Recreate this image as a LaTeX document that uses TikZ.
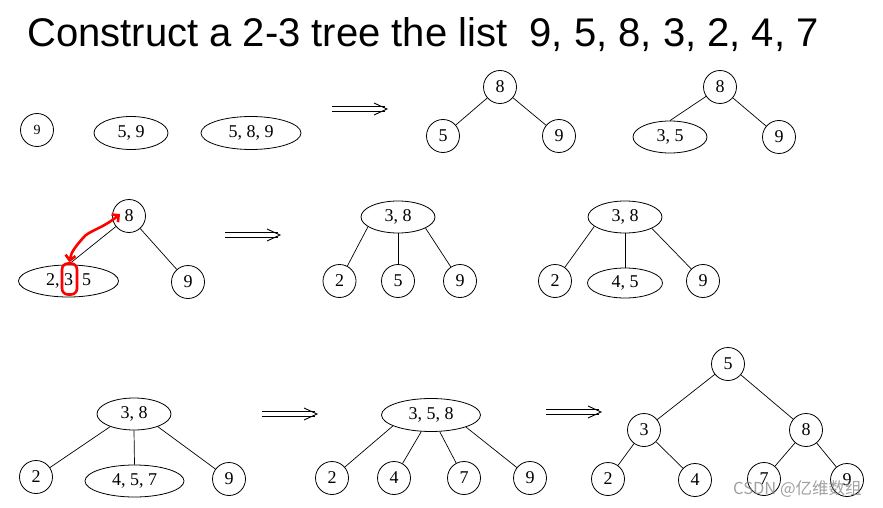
\documentclass[tikz,border=0pt]{standalone}
\usepackage{fontspec}
\setmainfont{Liberation Serif}
\newfontfamily\titlefont{Liberation Sans}
\newfontfamily\cjk{Noto Sans CJK SC}
\usetikzlibrary{shapes.geometric,arrows.meta}
\tikzset{
  cnode/.style={circle,draw,line width=0.8pt,minimum size=33pt,inner sep=0pt,font=\fontsize{18}{18}\selectfont},
  enode/.style={ellipse,draw,line width=0.8pt,inner sep=0pt,minimum height=32pt,font=\fontsize{18}{18}\selectfont},
  tedge/.style={line width=0.7pt},
  redbox/.style={draw=red,line width=2.6pt,rounded corners=6pt,minimum width=15pt,minimum height=31pt,inner sep=0pt},
  redarr/.style={draw=red,line width=2.6pt,line cap=round,line join=round,arrows={Straight Barb[length=5pt,width=10pt]-Straight Barb[length=5pt,width=10pt]}},
  dblarr/.pic={
    \draw[line width=0.8pt] (0,-2.2) -- (53,-2.2) (0,2.2) -- (53,2.2);
    \draw[line width=0.9pt] (42,-6) -- (55,0) -- (42,6);
  }
}
\begin{document}
\begin{tikzpicture}[x=1pt,y=-1pt]
\useasboundingbox (0,0) rectangle (883,508);

% title
\node[font=\titlefont\fontsize{40}{40}\selectfont,anchor=base west,inner sep=0pt] (title) at (27,47) {Construct a 2-3 tree the list\ \ 9, 5, 8, 3, 2, 4, 7};

% ---------- row 1 ----------
\node[cnode,font=\fontsize{14}{14}\selectfont] (a9) at (37,130) {9};
\node[enode,minimum width=74pt,minimum height=33pt] (a59) at (131,133) {5, 9};
\node[enode,minimum width=100pt,minimum height=33pt] (a589) at (251,133) {5, 8, 9};
\pic at (332,109) {dblarr};

\node[cnode] (b8) at (500,87) {8};
\node[cnode] (b5) at (443,136) {5};
\node[cnode] (b9) at (559,136) {9};
\draw[tedge] (b8) -- (b5);
\draw[tedge] (b8) -- (b9);

\node[cnode] (c8) at (720,87) {8};
\node[enode,minimum width=74pt] (c35) at (670,137) {3, 5};
\node[cnode] (c9) at (779,137) {9};
\draw[tedge] (c8) -- (c35.north);
\draw[tedge] (c8) -- (c9);

% ---------- row 2 ----------
\node[cnode] (d8) at (129,216) {8};
\node[enode,minimum width=100pt] (d235) at (68.5,281) {2, 3\enspace 5};
\node[cnode] (d9) at (188,282) {9};
\draw[tedge] (d8) -- (d235.north);
\draw[tedge] (d8) -- (d9);
\node[redbox] (dred) at (69.5,279) {};
\coordinate (dtip) at (120,214);
\draw[redarr] (dred.north) .. controls (71,252) and (76,246) .. (83,238) .. controls (88,231) and (102,229) .. (dtip);

\pic at (225,235) {dblarr};

\node[enode,minimum width=74pt] (e38) at (398,217) {3, 8};
\node[cnode] (e2) at (339.5,281) {2};
\node[cnode] (e5) at (398,281) {5};
\node[cnode] (e9) at (460,281) {9};
\draw[tedge] (e38.198) -- (e2);
\draw[tedge] (e38.south) -- (e5.north);
\draw[tedge] (e38.338) -- (e9);

\node[enode,minimum width=74pt] (f38) at (625,217) {3, 8};
\node[cnode] (f2) at (555,281) {2};
\node[enode,minimum width=75pt,minimum height=30pt] (f45) at (625,283) {4, 5};
\node[cnode] (f9) at (703,281) {9};
\draw[tedge] (f38.197) -- (f2);
\draw[tedge] (f38.south) -- (f45.north);
\draw[tedge] (f38.337) -- (f9);

% ---------- row 3 ----------
\node[enode,minimum width=74pt] (g38) at (134,414) {3, 8};
\node[cnode] (g2) at (36,477) {2};
\node[enode,minimum width=99pt] (g457) at (134.5,481) {4, 5, 7};
\node[cnode] (g9) at (229,479) {9};
\draw[tedge] (g38.208) -- (g2);
\draw[tedge] (g38.south) -- (g457.north);
\draw[tedge] (g38.332) -- (g9);

\pic at (262,414) {dblarr};

\node[enode,minimum width=99pt,minimum height=33pt] (h358) at (431,415) {3, 5, 8};
\node[cnode] (h2) at (332,478) {2};
\node[cnode] (h4) at (394,478) {4};
\node[cnode] (h7) at (464,478) {7};
\node[cnode] (h9) at (530,478) {9};
\draw[tedge] (h358.196) -- (h2);
\draw[tedge] (h358) -- (h4);
\draw[tedge] (h358) -- (h7);
\draw[tedge] (h358.341) -- (h9);

\pic at (546,412) {dblarr};

\node[cnode] (i5) at (728,364) {5};
\node[cnode] (i3) at (644,430) {3};
\node[cnode] (i8) at (806,430) {8};
\node[cnode] (i2) at (608,479) {2};
\node[cnode] (i4) at (695,480) {4};
\node[cnode] (i7) at (764,479) {7};
\node[cnode] (i9) at (847,480) {9};
\draw[tedge] (i5) -- (i3);
\draw[tedge] (i5) -- (i8);
\draw[tedge] (i3) -- (i2);
\draw[tedge] (i3) -- (i4);
\draw[tedge] (i8) -- (i7);
\draw[tedge] (i8) -- (i9);

% watermark
\node[anchor=west,inner sep=0pt,text=gray,opacity=0.75,font=\cjk\fontsize{16.5}{16.5}\selectfont] (wm) at (733,489) {CSDN @亿维数组};
\end{tikzpicture}
\end{document}
